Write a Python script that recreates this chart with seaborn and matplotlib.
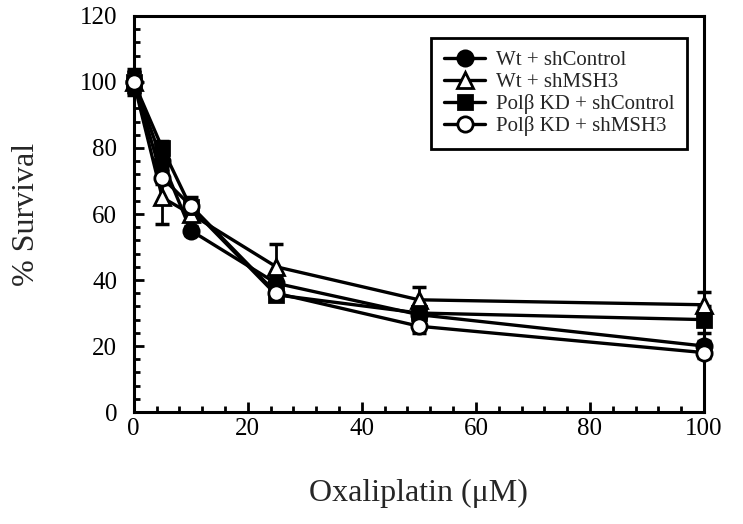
import matplotlib
matplotlib.use("Agg")
import matplotlib.pyplot as plt
import seaborn as sns
from matplotlib.ticker import MultipleLocator

dose = [0, 5, 10, 25, 50, 100]

wt_ctrl = [100, 76, 55, 39, 29.5, 20]
wt_ctrl_err = [3, 2, 1.5, 2, 1.5, 1.5]

wt_msh3 = [100, 65, 60, 44, 34, 32.5]
wt_msh3_err = [4, 8, 2, 7, 4, 4]

pol_ctrl = [100, 80, 62, 35.5, 30, 28]
pol_ctrl_err = [3, 2, 3, 1.5, 2, 4]

pol_msh3 = [100, 71, 62.5, 36, 26, 18]
pol_msh3_err = [3, 2, 1.5, 1.5, 2, 1.5]

labels = ["Wt + shControl", "Wt + shMSH3", "Polβ KD + shControl", "Polβ KD + shMSH3"]

sns.set_style("ticks")
plt.rcParams['font.family'] = ['Liberation Serif', 'DejaVu Serif']

fig = plt.figure(figsize=(7.43, 5.24), dpi=100)
ax = fig.add_axes([0.180, 0.2137, 0.7675, 0.7558])

series = [
    (wt_ctrl, wt_ctrl_err, 'o', 'black', 11),
    (wt_msh3, wt_msh3_err, '^', 'white', 11),
    (pol_ctrl, pol_ctrl_err, 's', 'black', 10),
    (pol_msh3, pol_msh3_err, 'o', 'white', 11),
]

for (vals, errs, mk, fc, ms), lab in zip(series, labels):
    eb = ax.errorbar(dose, vals, yerr=errs, fmt='none', ecolor='black',
                     elinewidth=2, capsize=5, capthick=2.5, zorder=2)
    for art in eb.get_children():
        art.set_clip_on(False)
    sns.lineplot(x=dose, y=vals, ax=ax, color='black', linewidth=2.4,
                 marker=mk, markersize=ms, markerfacecolor=fc,
                 markeredgecolor='black', markeredgewidth=2, label=lab,
                 zorder=3, clip_on=False)

ax.set_xlim(0, 100)
ax.set_ylim(0, 120)
ax.xaxis.set_major_locator(MultipleLocator(20))
ax.xaxis.set_minor_locator(MultipleLocator(4))
ax.yaxis.set_major_locator(MultipleLocator(20))
ax.yaxis.set_minor_locator(MultipleLocator(4))
ax.tick_params(which='both', direction='in', top=False, right=False,
               width=2, colors='black', labelsize=18)
ax.tick_params(which='major', length=7)
ax.tick_params(which='minor', length=4)
ax.tick_params(axis='y', which='major', pad=12)
ax.tick_params(axis='x', which='major', pad=4)

for sp in ax.spines.values():
    sp.set_linewidth(2.2)
    sp.set_color('black')

ax.set_xlabel("Oxaliplatin (μM)", fontsize=23, labelpad=28)
ax.set_ylabel("% Survival", fontsize=23)
ax.yaxis.set_label_coords(-0.163, 0.5)

leg = ax.legend(loc='upper right', bbox_to_anchor=(0.970, 0.944), fontsize=15,
                frameon=True, fancybox=False, edgecolor='black',
                handlelength=2.0, handletextpad=0.5, borderpad=0.6,
                labelspacing=0.1, borderaxespad=0)
leg.get_frame().set_linewidth(2)
leg.get_frame().set_alpha(1)

fig.savefig("out.png", dpi=100)
